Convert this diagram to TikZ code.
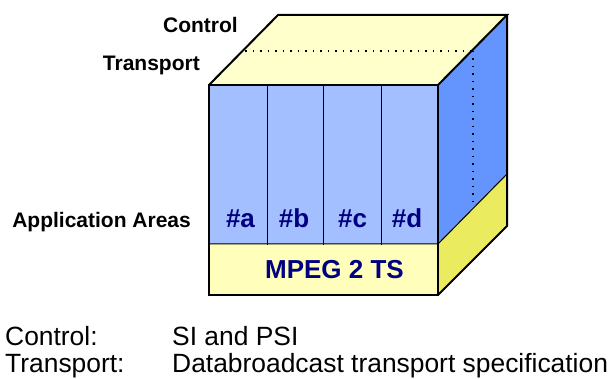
\documentclass[tikz,border=0pt]{standalone}
\usepackage{fontspec}
\setmainfont{Liberation Sans}
\definecolor{paleyellow}{HTML}{FFFFCC}
\definecolor{frontyellow}{HTML}{FFFFBB}
\definecolor{sideyellow}{HTML}{EBEB60}
\definecolor{sideblue}{HTML}{6495FF}
\definecolor{panelblue}{HTML}{A3BFFF}
\definecolor{navytext}{HTML}{000080}
\tikzset{
  edge3/.style={draw=black,line width=2pt,line join=miter},
  thinedge/.style={draw=black,line width=1pt},
  dots/.style={draw=black,line width=1.5pt,dash pattern=on 1.5pt off 6pt},
  lab/.style={font=\bfseries\fontsize{21}{23}\selectfont,inner sep=0pt,anchor=base east},
  appl/.style={font=\bfseries\fontsize{26}{28}\selectfont,text=navytext,inner sep=0pt,anchor=base},
  captiontext/.style={font=\fontsize{26.4}{28}\selectfont,inner sep=0pt,anchor=base west}
}
\begin{document}
\begin{tikzpicture}[x=1pt,y=-1pt]
\useasboundingbox (0,0) rectangle (610,379);
\coordinate (ftl) at (209,85);
\coordinate (ftr) at (438,85);
\coordinate (fml) at (209,244);
\coordinate (fmr) at (438,244);
\coordinate (fbl) at (209,295);
\coordinate (fbr) at (438,295);
\coordinate (btl) at (278,15);
\coordinate (btr) at (507,15);
\coordinate (bmr) at (507,174);
\coordinate (bbr) at (507,226);
\coordinate (dl) at (245,51);
\coordinate (dr) at (473,51);
\coordinate (dd) at (473,208);
% faces
\fill[paleyellow] (ftl)--(btl)--(btr)--(ftr)--cycle;
\fill[sideblue] (ftr)--(btr)--(bmr)--(fmr)--cycle;
\fill[sideyellow] (fmr)--(bmr)--(bbr)--(fbr)--cycle;
\fill[panelblue] (ftl) rectangle (fmr);
\fill[frontyellow] (fml) rectangle (fbr);
% dividers
\foreach \x in {267,323,381}{\draw[thinedge] (\x,85)--(\x,245);}
\draw[thinedge] (fml)--(fmr)--(bmr);
% dotted
\draw[dots] (dl)--(dr);
\draw[dots] (dr)--(dd);
% outline
\draw[edge3] (fml)--(ftl)--(ftr)--(fmr)--(fbr)--(fbl)--cycle;
\draw[edge3] (ftl)--(btl)--(btr)--(ftr);
\draw[edge3] (btr)--(bbr)--(fbr);
% labels
\node[lab] (control) at (238,33) {Control};
\node[lab] (transport) at (200,71) {Transport};
\node[lab] (appareas) at (191,228) {Application Areas};
\node[appl] (a) at (240.5,228) {\#a};
\node[appl] (b) at (294,228) {\#b};
\node[appl] (c) at (352.5,228) {\#c};
\node[appl] (d) at (407,228) {\#d};
\node[appl] (ts) at (334.5,278) {MPEG 2 TS};
\node[captiontext] (c1) at (5,345) {Control:};
\node[captiontext] (c2) at (172,345) {SI and PSI};
\node[captiontext] (t1) at (5,372) {Transport:};
\node[captiontext] (t2) at (172,372) {Databroadcast transport specification};
\end{tikzpicture}
\end{document}
